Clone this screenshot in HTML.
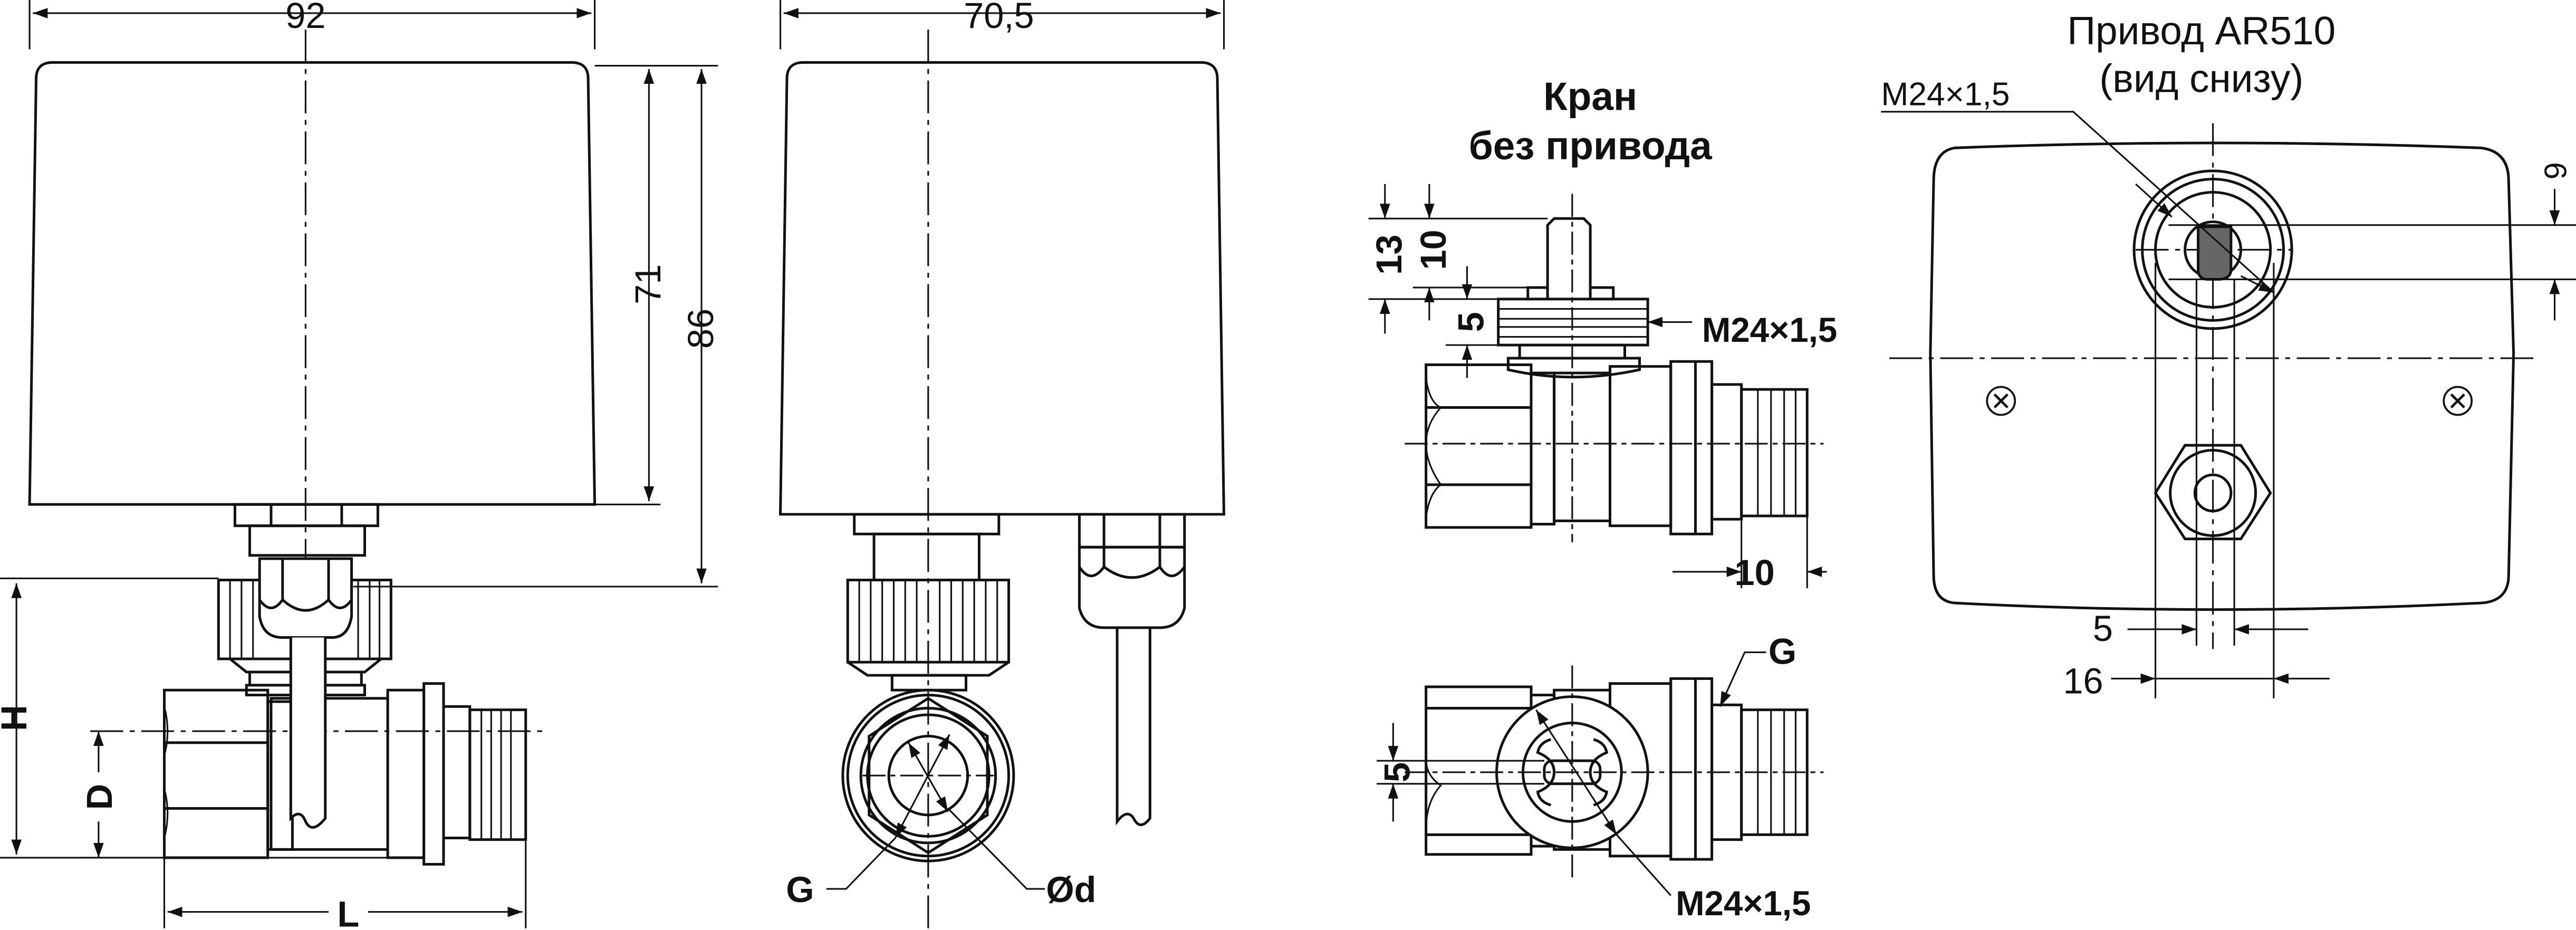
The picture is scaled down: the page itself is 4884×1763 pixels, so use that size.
<!DOCTYPE html>
<html><head><meta charset="utf-8"><style>
html,body{margin:0;padding:0;background:#fff;}
svg{display:block}
text{font-family:"Liberation Sans",sans-serif;fill:#111;}
.t{font-size:22px;}
.b{font-size:22px;font-weight:bold;}
</style></head><body>
<svg width="4884" height="1763" viewBox="0 0 1568 566" xmlns="http://www.w3.org/2000/svg">
<defs>
<marker id="a" viewBox="0 0 10 10" refX="10" refY="5" markerWidth="9" markerHeight="9" orient="auto-start-reverse" markerUnits="userSpaceOnUse"><path d="M0,1.5 L10,5 L0,8.5 Z" fill="#111"/></marker>
</defs>
<g fill="none" stroke="#111" stroke-width="1.6">
<!-- ===== VIEW 1 ===== -->
<path d="M18,307 L22,48 Q22,38 32,38 L348,38 Q358,38 358,48 L362,307 Z"/>
<g stroke-width="1" stroke-dasharray="20,4,3,4"><line x1="186" y1="18" x2="186" y2="470"/><line x1="55" y1="445" x2="330" y2="445"/></g>
<line x1="18" y1="0" x2="18" y2="30" stroke-width="1"/><line x1="362" y1="0" x2="362" y2="30" stroke-width="1"/>
<line x1="20" y1="8" x2="360" y2="8" stroke-width="1" marker-start="url(#a)" marker-end="url(#a)"/>
<rect x="143" y="307" width="87" height="13"/>
<rect x="152" y="320" width="70" height="18"/>
<line x1="165" y1="307" x2="165" y2="320"/><line x1="208" y1="307" x2="208" y2="320"/>
<rect x="133" y="353" width="105" height="48"/>
<g stroke-width="1"><line x1="140" y1="353" x2="140" y2="401"/><line x1="147" y1="353" x2="147" y2="401"/><line x1="154" y1="353" x2="154" y2="401"/><line x1="218" y1="353" x2="218" y2="401"/><line x1="225" y1="353" x2="225" y2="401"/><line x1="231" y1="353" x2="231" y2="401"/></g>
<path d="M158,340 L158,375 Q160,388 172,388 L202,388 Q212,388 214,375 L214,340 Z" fill="#fff"/>
<line x1="172" y1="340" x2="172" y2="365"/><line x1="200" y1="340" x2="200" y2="365"/>
<path d="M158,365 Q165,375 172,365 Q186,378 200,365 Q207,375 214,365"/>
<path d="M140,401 L150,409 L222,409 L232,401"/>
<rect x="152" y="409" width="68" height="8"/>
<rect x="150" y="417" width="72" height="6"/>
<rect x="100" y="420" width="63" height="102"/>
<line x1="100" y1="452" x2="163" y2="452"/><line x1="100" y1="492" x2="163" y2="492"/>
<path d="M100,430 Q104,445 100,460 M100,480 Q104,495 100,510" stroke-width="1"/>
<rect x="163" y="427" width="15" height="90"/>
<rect x="165" y="425" width="71" height="92"/>
<rect x="236" y="420" width="22" height="102"/>
<rect x="258" y="416" width="12" height="110"/>
<rect x="270" y="430" width="16" height="80"/>
<rect x="286" y="432" width="34" height="79"/>
<g stroke-width="1"><line x1="293" y1="432" x2="293" y2="511"/><line x1="299" y1="432" x2="299" y2="511"/><line x1="305" y1="432" x2="305" y2="511"/><line x1="311" y1="432" x2="311" y2="511"/></g>
<path d="M177,388 L177,498 Q183,492 186,500 Q190,508 198,498 L198,388" fill="#fff"/>
<g stroke-width="1">
<line x1="362" y1="40" x2="437" y2="40"/><line x1="362" y1="307" x2="402" y2="307"/><line x1="215" y1="357" x2="437" y2="357"/>
<line x1="395" y1="42" x2="395" y2="305" marker-start="url(#a)" marker-end="url(#a)"/>
<line x1="427" y1="42" x2="427" y2="355" marker-start="url(#a)" marker-end="url(#a)"/>
<line x1="0" y1="352" x2="133" y2="352"/><line x1="0" y1="522" x2="258" y2="522"/>
<line x1="10" y1="355" x2="10" y2="520" marker-start="url(#a)" marker-end="url(#a)"/>
<line x1="50" y1="522" x2="100" y2="522"/>
<line x1="60" y1="470" x2="60" y2="445" marker-end="url(#a)"/><line x1="60" y1="500" x2="60" y2="522" marker-end="url(#a)"/>
<line x1="100" y1="522" x2="100" y2="565"/><line x1="320" y1="511" x2="320" y2="565"/>
<line x1="102" y1="555" x2="200" y2="555" marker-start="url(#a)"/><line x1="224" y1="555" x2="318" y2="555" marker-end="url(#a)"/>
</g>
<!-- ===== VIEW 2 ===== -->
<path d="M475,313 L479,48 Q479,38 489,38 L731,38 Q741,38 741,48 L745,313 Z"/>
<line x1="475" y1="0" x2="475" y2="30" stroke-width="1"/><line x1="745" y1="0" x2="745" y2="30" stroke-width="1"/>
<line x1="477" y1="8" x2="743" y2="8" stroke-width="1" marker-start="url(#a)" marker-end="url(#a)"/>
<line x1="565" y1="18" x2="565" y2="566" stroke-width="1" stroke-dasharray="20,4,3,4"/>
<rect x="520" y="313" width="88" height="12"/>
<rect x="532" y="325" width="64" height="28"/>
<rect x="516" y="353" width="98" height="50"/>
<g stroke-width="1"><line x1="523" y1="353" x2="523" y2="403"/><line x1="530" y1="353" x2="530" y2="403"/><line x1="537" y1="353" x2="537" y2="403"/><line x1="544" y1="353" x2="544" y2="403"/><line x1="551" y1="353" x2="551" y2="403"/><line x1="558" y1="353" x2="558" y2="403"/><line x1="572" y1="353" x2="572" y2="403"/><line x1="579" y1="353" x2="579" y2="403"/><line x1="586" y1="353" x2="586" y2="403"/><line x1="593" y1="353" x2="593" y2="403"/><line x1="600" y1="353" x2="600" y2="403"/><line x1="607" y1="353" x2="607" y2="403"/></g>
<path d="M516,403 L528,411 L602,411 L614,403"/>
<rect x="543" y="411" width="45" height="9"/>
<circle cx="565" cy="472" r="52"/><circle cx="565" cy="472" r="49"/>
<path d="M565,425 L601,448 L601,496 L565,519 L529,496 L529,448 Z"/>
<circle cx="565" cy="472" r="41"/><circle cx="565" cy="472" r="37"/>
<circle cx="565" cy="472" r="24"/>
<g stroke-width="1"><line x1="525" y1="472" x2="605" y2="472" stroke-dasharray="14,3,3,3"/>
<line x1="578" y1="447" x2="545" y2="510" marker-start="url(#a)" marker-end="url(#a)"/>
<line x1="553" y1="452" x2="577" y2="494" marker-start="url(#a)" marker-end="url(#a)"/>
<polyline points="503,541 515,541 545,510"/><polyline points="636,541 625,541 577,492"/></g>
<rect x="657" y="313" width="64" height="20"/>
<line x1="672" y1="313" x2="672" y2="333"/><line x1="706" y1="313" x2="706" y2="333"/>
<path d="M657,333 L657,370 Q660,382 672,382 L706,382 Q718,382 721,370 L721,333 Z"/>
<line x1="672" y1="333" x2="672" y2="345"/><line x1="706" y1="333" x2="706" y2="345"/>
<path d="M657,345 Q664,356 672,345 Q689,358 706,345 Q713,356 721,345"/>
<path d="M680,382 L680,500 Q686,492 690,498 Q694,506 700,498 L700,382"/>
<!-- ===== VIEW 3 top ===== -->
<g stroke-width="1" stroke-dasharray="14,3,3,3"><line x1="957" y1="118" x2="957" y2="330"/><line x1="855" y1="270" x2="1110" y2="270"/></g>
<path d="M942,175 L942,137 L946,133 L964,133 L968,137 L968,175"/>
<rect x="930" y="175" width="12" height="7"/><rect x="968" y="175" width="14" height="7"/>
<rect x="912" y="182" width="91" height="28"/>
<g stroke-width="1"><line x1="912" y1="188" x2="1003" y2="188"/><line x1="912" y1="194" x2="1003" y2="194"/><line x1="912" y1="199" x2="1003" y2="199"/><line x1="912" y1="205" x2="1003" y2="205"/></g>
<rect x="925" y="210" width="64" height="8"/>
<path d="M918,218 L998,218 L998,225 Q957,234 918,225 Z"/>
<rect x="868" y="222" width="64" height="99"/>
<line x1="868" y1="248" x2="932" y2="248"/><line x1="868" y1="295" x2="932" y2="295"/>
<path d="M868,230 Q870,245 877,248 Q868,258 868,270 Q868,282 877,295 Q870,300 868,315" stroke-width="1"/>
<rect x="932" y="227" width="14" height="92"/>
<rect x="946" y="227" width="34" height="90"/>
<rect x="980" y="223" width="37" height="97"/>
<rect x="1017" y="220" width="25" height="105"/>
<line x1="1032" y1="220" x2="1032" y2="325"/>
<rect x="1042" y="234" width="18" height="82"/>
<rect x="1060" y="237" width="40" height="77"/>
<g stroke-width="1"><line x1="1070" y1="237" x2="1070" y2="314"/><line x1="1078" y1="237" x2="1078" y2="314"/><line x1="1086" y1="237" x2="1086" y2="314"/><line x1="1093" y1="237" x2="1093" y2="314"/></g>
<g stroke-width="1">
<line x1="833" y1="133" x2="942" y2="133"/><line x1="860" y1="175" x2="930" y2="175"/><line x1="833" y1="182" x2="912" y2="182"/><line x1="880" y1="210" x2="912" y2="210"/>
<line x1="843" y1="112" x2="843" y2="133" marker-end="url(#a)"/><line x1="843" y1="203" x2="843" y2="182" marker-end="url(#a)"/>
<line x1="870" y1="112" x2="870" y2="133" marker-end="url(#a)"/><line x1="870" y1="195" x2="870" y2="175" marker-end="url(#a)"/>
<line x1="893" y1="162" x2="893" y2="182" marker-end="url(#a)"/><line x1="893" y1="230" x2="893" y2="210" marker-end="url(#a)"/>
<line x1="1030" y1="196" x2="1003" y2="196" marker-end="url(#a)"/>
<line x1="1060" y1="316" x2="1060" y2="358"/><line x1="1100" y1="314" x2="1100" y2="358"/>
<line x1="1018" y1="348" x2="1060" y2="348" marker-end="url(#a)"/><line x1="1112" y1="348" x2="1100" y2="348" marker-end="url(#a)"/>
</g>
<!-- ===== VIEW 3 bottom ===== -->
<rect x="868" y="418" width="64" height="102"/>
<line x1="868" y1="431" x2="932" y2="431"/><line x1="868" y1="508" x2="932" y2="508"/>
<path d="M868,505 Q868,488 877,478 Q868,472 868,462" stroke-width="1"/>
<rect x="932" y="423" width="14" height="92"/>
<rect x="946" y="420" width="34" height="97"/>
<rect x="980" y="416" width="37" height="105"/>
<rect x="1017" y="413" width="25" height="110"/>
<line x1="1032" y1="413" x2="1032" y2="523"/>
<rect x="1042" y="429" width="18" height="82"/>
<rect x="1060" y="432" width="40" height="76"/>
<g stroke-width="1"><line x1="1070" y1="432" x2="1070" y2="508"/><line x1="1078" y1="432" x2="1078" y2="508"/><line x1="1086" y1="432" x2="1086" y2="508"/><line x1="1093" y1="432" x2="1093" y2="508"/></g>
<circle cx="957" cy="470" r="46" fill="#fff"/>
<circle cx="957" cy="470" r="30"/>
<path d="M944,450 Q937,452 936,458 Q946,462 946,470 Q946,478 936,482 Q937,488 944,490"/>
<path d="M970,450 Q977,452 978,458 Q968,462 968,470 Q968,478 978,482 Q977,488 970,490"/>
<rect x="940" y="463" width="34" height="14" rx="5"/>
<g stroke-width="1">
<line x1="957" y1="405" x2="957" y2="535" stroke-dasharray="14,3,3,3"/><line x1="855" y1="470" x2="1110" y2="470" stroke-dasharray="14,3,3,3"/>
<line x1="838" y1="463" x2="940" y2="463"/><line x1="838" y1="477" x2="940" y2="477"/>
<line x1="848" y1="440" x2="848" y2="463" marker-end="url(#a)"/><line x1="848" y1="500" x2="848" y2="477" marker-end="url(#a)"/>
<line x1="935" y1="432" x2="984" y2="508" marker-start="url(#a)" marker-end="url(#a)"/>
<polyline points="984,508 1017,545"/>
<polyline points="1075,397 1062,397 1047,430" marker-end="url(#a)"/>
</g>
<!-- ===== VIEW 4 ===== -->
<path d="M1190,90 Q1347,84 1510,90 Q1527,92 1527,110 L1530,215 L1527,350 Q1527,366 1510,367 Q1347,375 1190,367 Q1177,366 1177,350 L1175,215 L1177,110 Q1177,92 1190,90 Z"/>
<g stroke-width="1" stroke-dasharray="20,4,3,4"><line x1="1347" y1="75" x2="1347" y2="395"/><line x1="1150" y1="218" x2="1545" y2="218"/><line x1="1300" y1="152" x2="1395" y2="152"/></g>
<circle cx="1347" cy="152" r="48"/><circle cx="1347" cy="152" r="43"/><circle cx="1347" cy="152" r="35"/>
<circle cx="1347" cy="152" r="17"/>
<path d="M1338,138 L1358,138 L1358,164 Q1358,170 1350,170 L1344,170 Q1338,170 1338,164 Z" fill="#666"/>
<g stroke-width="1">
<line x1="1320" y1="137" x2="1568" y2="137"/><line x1="1320" y1="170" x2="1568" y2="170"/>
<line x1="1555" y1="115" x2="1555" y2="137" marker-end="url(#a)"/><line x1="1555" y1="195" x2="1555" y2="170" marker-end="url(#a)"/>
<polyline points="1145,68 1262,68 1384,178" />
</g>
<circle cx="1218" cy="244" r="8.5" stroke-width="1.2"/><circle cx="1496" cy="244" r="8.5" stroke-width="1.2"/>
<g stroke-width="1.5"><path d="M1214,240 L1222,248 M1222,240 L1214,248"/><path d="M1492,240 L1500,248 M1500,240 L1492,248"/></g>
<path d="M1330,271 L1364,271 L1382,300 L1364,328 L1330,328 L1312,300 Z"/>
<circle cx="1347" cy="300" r="26"/><circle cx="1347" cy="300" r="11"/>
<g stroke-width="1">
<line x1="1312" y1="160" x2="1312" y2="425"/><line x1="1384" y1="160" x2="1384" y2="425"/>
<line x1="1337" y1="170" x2="1337" y2="393"/><line x1="1360" y1="170" x2="1360" y2="393"/>
<line x1="1295" y1="383" x2="1337" y2="383" marker-end="url(#a)"/><line x1="1405" y1="383" x2="1360" y2="383" marker-end="url(#a)"/>
<line x1="1285" y1="413" x2="1312" y2="413" marker-end="url(#a)"/><line x1="1418" y1="413" x2="1384" y2="413" marker-end="url(#a)"/>
<line x1="1312" y1="413" x2="1384" y2="413"/>
<line x1="1300" y1="112" x2="1322" y2="132" marker-end="url(#a)"/><line x1="1364" y1="168" x2="1384" y2="178" marker-end="url(#a)"/>
</g>
</g>
<!-- TEXT -->
<text x="186" y="17" class="t" text-anchor="middle">92</text>
<text x="608" y="17" class="t" text-anchor="middle">70,5</text>
<text class="t" text-anchor="middle" transform="translate(402,173) rotate(-90)">71</text>
<text class="t" text-anchor="middle" transform="translate(434,200) rotate(-90)">86</text>
<text class="b" text-anchor="middle" transform="translate(16,437) rotate(-90)">H</text>
<text class="b" text-anchor="middle" transform="translate(68,485) rotate(-90)">D</text>
<text x="212" y="564" class="b" text-anchor="middle">L</text>
<text x="487" y="549" class="b" text-anchor="middle">G</text>
<text x="652" y="549" class="b" text-anchor="middle">Ød</text>
<text x="968" y="67" class="b" text-anchor="middle" style="font-size:24px">Кран</text>
<text x="968" y="97" class="b" text-anchor="middle" style="font-size:24px">без привода</text>
<text class="b" text-anchor="middle" transform="translate(853,155) rotate(-90)">13</text>
<text class="b" text-anchor="middle" transform="translate(880,152) rotate(-90)">10</text>
<text class="b" text-anchor="middle" transform="translate(903,196) rotate(-90)">5</text>
<text x="1036" y="208" class="b" style="font-size:21px">M24×1,5</text>
<text x="1068" y="356" class="b" text-anchor="middle">10</text>
<text x="1085" y="404" class="b" text-anchor="middle">G</text>
<text class="b" text-anchor="middle" transform="translate(858,470) rotate(-90)">5</text>
<text x="1020" y="557" class="b" style="font-size:21px">M24×1,5</text>
<text x="1340" y="27" class="t" text-anchor="middle" style="font-size:24px">Привод AR510</text>
<text x="1340" y="56" class="t" text-anchor="middle" style="font-size:24px">(вид снизу)</text>
<text x="1145" y="64" class="t" style="font-size:20px">M24×1,5</text>
<text class="t" text-anchor="middle" transform="translate(1562,104) rotate(-90)" style="font-size:19px">9</text>
<text x="1280" y="390" class="t" text-anchor="middle">5</text>
<text x="1268" y="422" class="t" text-anchor="middle">16</text>
</svg>
</body></html>
